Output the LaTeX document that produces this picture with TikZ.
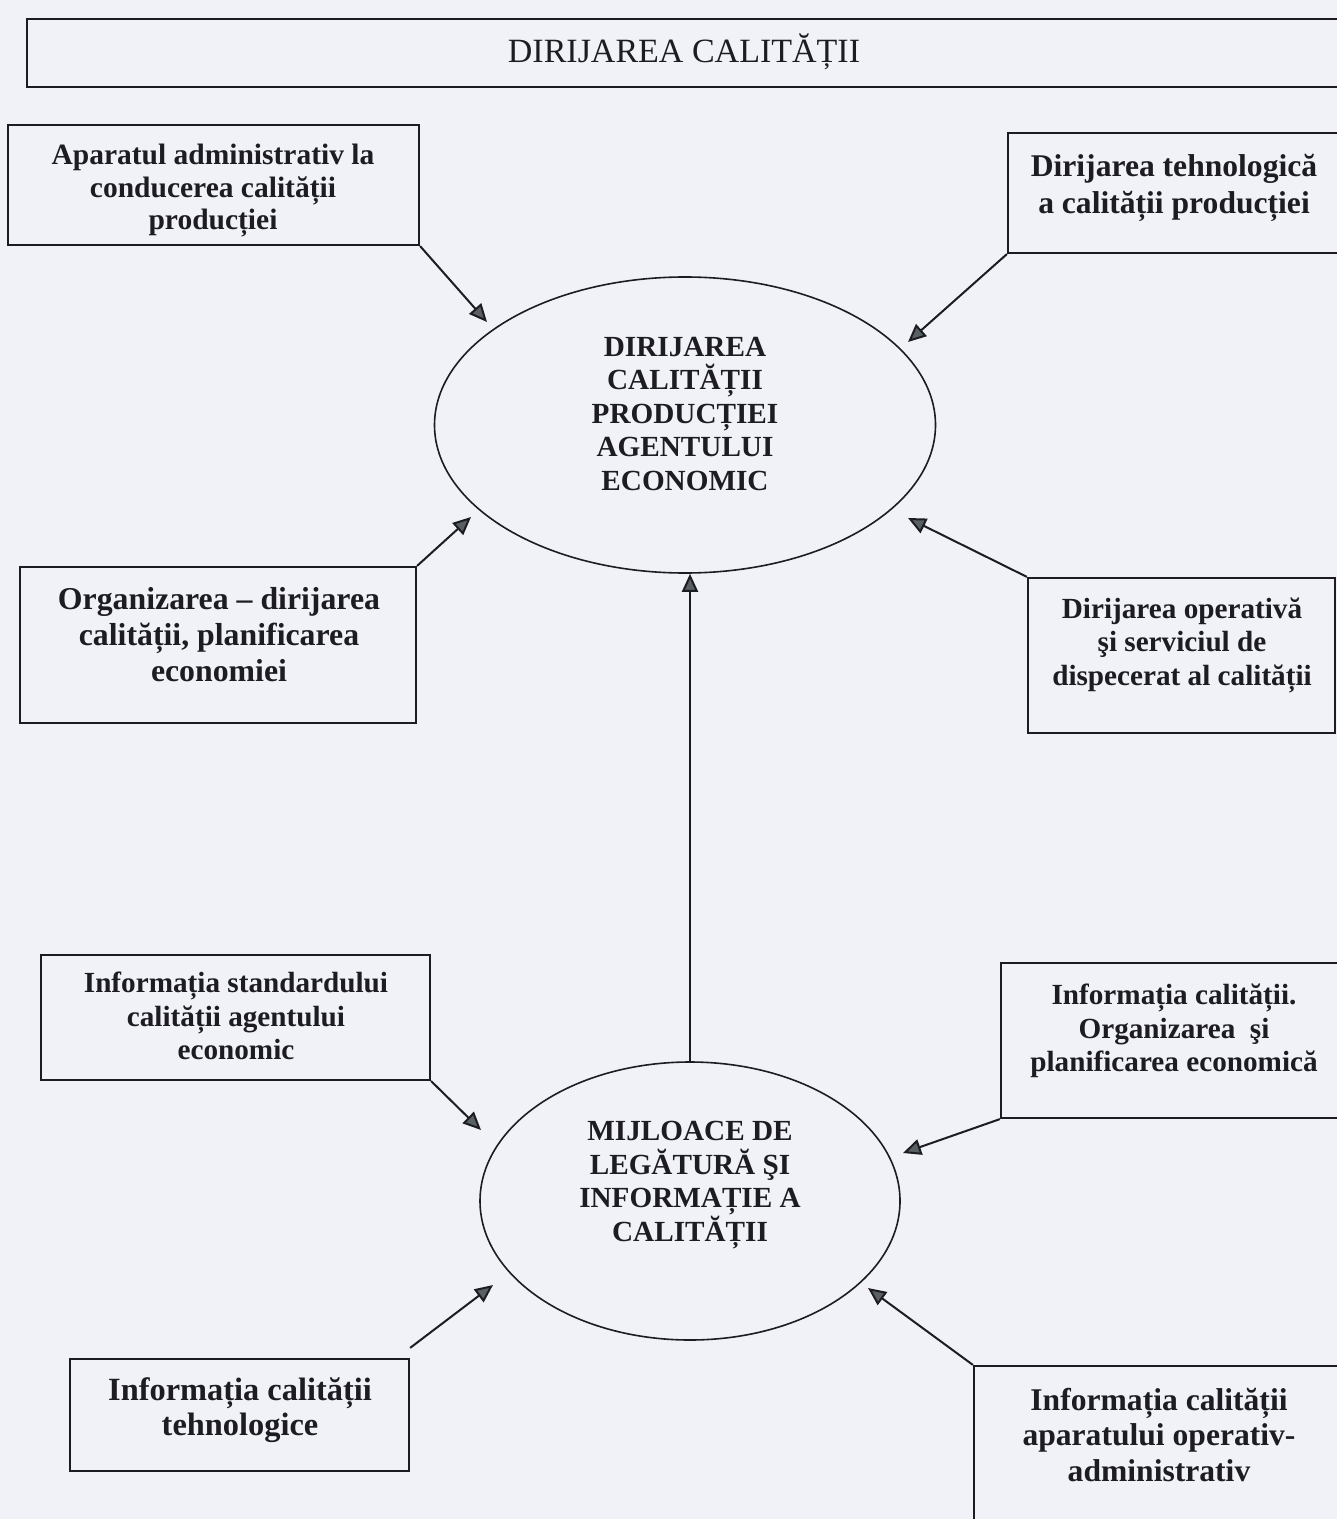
\documentclass[tikz,border=0pt]{standalone}
\usepackage{fontspec}
\setmainfont{Liberation Serif}
\usetikzlibrary{arrows.meta,shapes.geometric,fit}
\definecolor{bg}{RGB}{241,241,248}
\definecolor{ink}{RGB}{28,28,34}
\definecolor{tipg}{RGB}{88,96,98}
\begin{document}
\begin{tikzpicture}[x=0.5pt,y=-0.5pt,
  box/.style={draw=ink,line width=1.1pt,inner sep=0pt},
  ell/.style={draw=ink,ellipse,line width=0.8pt,inner sep=0pt},
  txt/.style={align=center,text=ink,font=\bfseries\fontsize{14.6}{16.75}\selectfont},
  txtl/.style={align=center,text=ink,font=\bfseries\fontsize{15.9}{18}\selectfont},
  arr/.style={draw=ink,line width=1pt,-{Triangle[length=9pt,width=8pt,fill=tipg]}}]
\fill[bg] (0,0) rectangle (1337,1519);
\useasboundingbox (0,0) rectangle (1337,1519);

% title
\node[box,fit={(27,19) (1350,87)}] (tb) {};
\node[text=ink,font=\fontsize{17}{20}\selectfont] (tt) at (684,52) {DIRIJAREA CALITĂȚII};

% boxes
\node[box,fit={(8,125) (419,245)}] (b1) {};
\node[txt,font=\bfseries\fontsize{14.75}{16.25}\selectfont] (b1t) at (213,191) {Aparatul administrativ la\\conducerea calității\\producției};

\node[box,fit={(1008,133) (1350,253)}] (b2) {};
\node[txtl,font=\bfseries\fontsize{15.8}{18.5}\selectfont] (b2t) at (1174,188) {Dirijarea tehnologică\\a calității producției};

\node[box,fit={(20,567) (416,723)}] (b4) {};
\node[txtl] (b4t) at (219,635) {Organizarea – dirijarea\\calității, planificarea\\economiei};

\node[box,fit={(1028,578) (1335,733)}] (b5) {};
\node[txt] (b5t) at (1182,645) {Dirijarea operativă\\şi serviciul de\\dispecerat al calității};

\node[box,fit={(41,955) (430,1080)}] (b6) {};
\node[txt] (b6t) at (236,1016) {Informația standardului\\calității agentului\\economic};

\node[box,fit={(1001,963) (1350,1118)}] (b7) {};
\node[txt] (b7t) at (1174,1031) {Informația calității.\\Organizarea\ \ şi\\planificarea economică};

\node[box,fit={(70,1359) (409,1471)}] (b9) {};
\node[txtl,font=\bfseries\fontsize{16.2}{17.5}\selectfont] (b9t) at (240,1410) {Informația calității\\tehnologice};

\node[box,fit={(974,1366) (1350,1540)}] (b10) {};
\node[txtl,font=\bfseries\fontsize{15.8}{17.6}\selectfont] (b10t) at (1159,1435) {Informația calității\\aparatului operativ-\\administrativ};

% ellipses
\node[ell,minimum width=250.5pt,minimum height=148pt] (e1) at (685,425) {};
\node[txt] (e1t) at (685,414) {DIRIJAREA\\CALITĂȚII\\PRODUCȚIEI\\AGENTULUI\\ECONOMIC};

\node[ell,minimum width=210pt,minimum height=139pt] (e2) at (690,1201) {};
\node[txt] (e2t) at (690,1185) {MIJLOACE DE\\LEGĂTURĂ ŞI\\INFORMAȚIE A\\CALITĂȚII};

% arrow tips
\coordinate (t1) at (487,322);
\coordinate (t2) at (908,342);
\coordinate (t3) at (471,517);
\coordinate (t4) at (908,518);
\coordinate (t5) at (481,1130);
\coordinate (t6) at (903,1153);
\coordinate (t7) at (493,1285);
\coordinate (t8) at (868,1288);

\draw[arr] (b1.south east) -- (t1);
\draw[arr] (b2.south west) -- (t2);
\draw[arr] (b4.north east) -- (t3);
\draw[arr] (b5.north west) -- (t4);
\draw[arr] (b6.south east) -- (t5);
\draw[arr] (b7.south west) -- (t6);
\draw[arr] ([yshift=5pt]b9.north east) -- (t7);
\draw[arr] (b10.north west) -- (t8);
\draw[arr] (e2.north) -- (e2.north |- e1.south);
\end{tikzpicture}
\end{document}
